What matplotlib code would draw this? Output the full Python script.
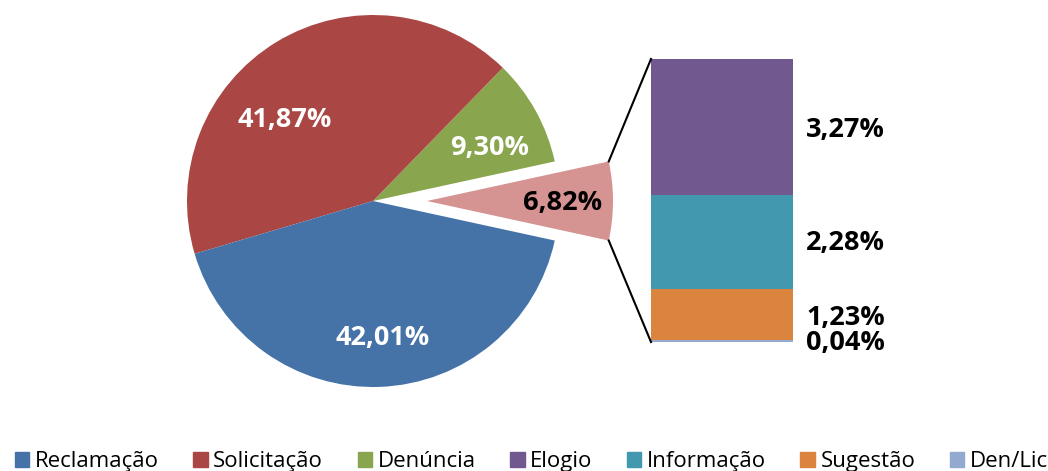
import math
import matplotlib
matplotlib.use("Agg")
import matplotlib.pyplot as plt
import matplotlib.patches as patches

plt.rcParams['font.family'] = ['Open Sans', 'DejaVu Sans']

# pie data
pie_names = ['Reclamação', 'Solicitação', 'Denúncia']
pie_values = [42.01, 41.87, 9.30]
pie_colors = ['#4572A7', '#AA4643', '#89A54E']
other_value = 6.82
other_color = '#D59392'

# bar (breakdown of the "other" slice), bottom to top
bar_names = ['Den/Lic', 'Sugestão', 'Informação', 'Elogio']
bar_values = [0.04, 1.23, 2.28, 3.27]
bar_colors = ['#93A9CF', '#DB843D', '#4198AF', '#71588F']

W, H = 1048, 471
fig = plt.figure(figsize=(W / 100, H / 100), dpi=100)
ax = fig.add_axes([0, 0, 1, 1])

cx, cy, r = 373, 270, 186
explode_px = 54
half = other_value * 3.6 / 2

# order counterclockwise starting at the exploded slice
vals = [other_value, pie_values[2], pie_values[1], pie_values[0]]
cols = [other_color, pie_colors[2], pie_colors[1], pie_colors[0]]
wedges, _ = ax.pie(vals, colors=cols, startangle=-half, counterclock=True,
                   center=(cx, cy), radius=r, explode=[explode_px, 0, 0, 0],
                   wedgeprops=dict(linewidth=0), frame=True)
ax.set_xlim(0, W)
ax.set_ylim(0, H)
ax.set_aspect('equal')
ax.axis('off')

# slice labels (angle deg, distance px, color, explode)
labels = [
    (0, 136, 'black', explode_px),
    (25, 129, 'white', 0),
    (137, 121, 'white', 0),
    (274, 135, 'white', 0),
]
for (ang, dist, col, ex), v in zip(labels, vals):
    a = math.radians(ang)
    ax.text(cx + ex + dist * math.cos(a), cy + dist * math.sin(a) - 2,
            ('%.2f%%' % v).replace('.', ','), color=col, fontsize=19.5,
            fontweight='bold', ha='center', va='center')

# stacked bar
bx, bw = 722, 142
btop, bbot = H - 59, H - 342
scale = (btop - bbot) / sum(bar_values)
bottom = bbot
label_y = []
for v, c in zip(bar_values, bar_colors):
    ax.bar(bx, v * scale, bottom=bottom, width=bw, color=c, linewidth=0)
    label_y.append(bottom + v * scale / 2)
    bottom += v * scale

# bar labels
offsets = [-2, -3, -1, -3]
for v, y, o in zip(bar_values, label_y, offsets):
    ax.text(806, y + o, ('%.2f%%' % v).replace('.', ','), fontsize=19.5,
            fontweight='bold', ha='left', va='center')

# connector lines
a = math.radians(half)
px = cx + explode_px + r * math.cos(a)
ax.plot([px, bx - bw / 2], [cy + r * math.sin(a), btop], color='black', lw=1.5)
ax.plot([px, bx - bw / 2], [cy - r * math.sin(a), bbot], color='black', lw=1.5)

# legend
handles = [patches.Patch(color=c) for c in pie_colors] + \
          [patches.Patch(color=c) for c in bar_colors[::-1]]
names = pie_names + bar_names[::-1]
fig.legend(handles, names, loc='lower left', bbox_to_anchor=(-0.005, -0.045),
           ncol=7, frameon=False, fontsize=16, handlelength=0.65,
           handleheight=0.65, handletextpad=0.25, columnspacing=1.55)

fig.savefig('out.png', dpi=100)
